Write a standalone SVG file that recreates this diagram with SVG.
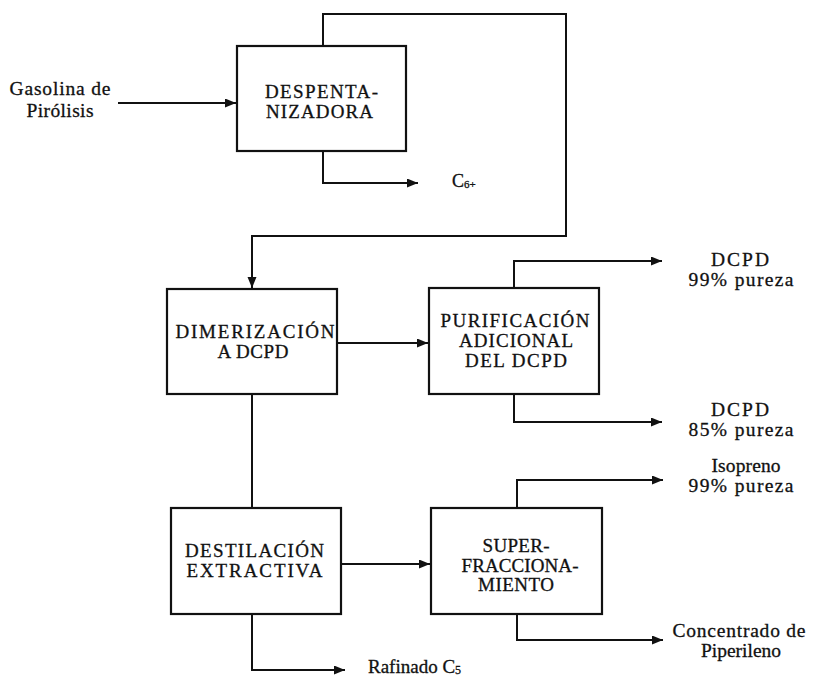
<svg xmlns="http://www.w3.org/2000/svg" width="813" height="678" viewBox="0 0 813 678">
  <style>
    .box { fill: #fff; stroke: #111; stroke-width: 2.2; }
    .line { fill: none; stroke: #111; stroke-width: 2; }
    .arr { marker-end: url(#ah); }
    text { font-family: "Liberation Serif", "Times New Roman", serif; fill: #111; stroke: #111; stroke-width: 0.3; }
    .bt { font-size: 19px; text-anchor: middle; }
    .lt { font-size: 19.5px; text-anchor: middle; }
  </style>
  <defs>
    <marker id="ah" markerUnits="userSpaceOnUse" markerWidth="12" markerHeight="10" refX="11" refY="4.5" orient="auto">
      <path d="M0,0 L11,4.5 L0,9 z" fill="#111"/>
    </marker>
  </defs>

  <rect width="813" height="678" fill="#fff"/>

  <!-- process streams -->
  <g id="connectors">
    <path class="line arr" d="M118,103 H236"/>
    <path class="line arr" d="M323,46 V14 H566 V236 H252 V288"/>
    <path class="line arr" d="M323,151 V183 H418"/>
    <path class="line arr" d="M337,343 H428"/>
    <path class="line arr" d="M514,288 V261 H662"/>
    <path class="line arr" d="M514,394 V422 H662"/>
    <path class="line" d="M252,394 V508"/>
    <path class="line arr" d="M341,564 H430"/>
    <path class="line arr" d="M252,614 V670 H345"/>
    <path class="line arr" d="M517,508 V480 H663"/>
    <path class="line arr" d="M517,614 V640 H663"/>
  </g>

  <!-- units -->
  <g id="despentanizadora">
    <rect class="box" x="237" y="46" width="169" height="105"/>
    <text class="bt" x="321.5" y="98" font-size="17.5" textLength="113" lengthAdjust="spacing">DESPENTA-</text>
    <text class="bt" x="319.5" y="118" font-size="17.5" textLength="107" lengthAdjust="spacing">NIZADORA</text>
  </g>

  <g id="dimerizacion">
    <rect class="box" x="167" y="289" width="170" height="105"/>
    <text class="bt" x="255" y="338" textLength="159" lengthAdjust="spacing">DIMERIZACIÓN</text>
    <text class="bt" x="253" y="358" textLength="71" lengthAdjust="spacing">A DCPD</text>
  </g>

  <g id="purificacion">
    <rect class="box" x="429" y="288" width="170" height="106"/>
    <text class="bt" x="515" y="327" textLength="149" lengthAdjust="spacing">PURIFICACIÓN</text>
    <text class="bt" x="516" y="347" textLength="114" lengthAdjust="spacing">ADICIONAL</text>
    <text class="bt" x="516" y="367" textLength="102" lengthAdjust="spacing">DEL DCPD</text>
  </g>

  <g id="destilacion">
    <rect class="box" x="171" y="508" width="170" height="106"/>
    <text class="bt" x="254.5" y="557" textLength="139" lengthAdjust="spacing">DESTILACIÓN</text>
    <text class="bt" x="254.5" y="577" textLength="136" lengthAdjust="spacing">EXTRACTIVA</text>
  </g>

  <g id="superfraccionamiento">
    <rect class="box" x="431" y="508" width="171" height="106"/>
    <text class="bt" x="516" y="552" textLength="67" lengthAdjust="spacing">SUPER-</text>
    <text class="bt" x="520" y="572" textLength="117" lengthAdjust="spacing">FRACCIONA-</text>
    <text class="bt" x="516" y="591" textLength="76" lengthAdjust="spacing">MIENTO</text>
  </g>

  <!-- feed and product labels -->
  <g id="feed">
    <text class="lt" x="60" y="95" textLength="101" lengthAdjust="spacing">Gasolina de</text>
    <text class="lt" x="60" y="117" textLength="67" lengthAdjust="spacing">Pirólisis</text>
  </g>

  <g id="c6-product">
    <text x="452" y="187" font-size="18">C<tspan font-size="11" dy="1">6+</tspan></text>
  </g>

  <g id="dcpd-99">
    <text class="lt" x="740" y="266" textLength="58" lengthAdjust="spacing">DCPD</text>
    <text class="lt" x="741" y="286" textLength="105" lengthAdjust="spacing">99% pureza</text>
  </g>

  <g id="dcpd-85">
    <text class="lt" x="740" y="416" textLength="58" lengthAdjust="spacing">DCPD</text>
    <text class="lt" x="741" y="436" textLength="105" lengthAdjust="spacing">85% pureza</text>
  </g>

  <g id="isopreno">
    <text class="lt" x="746" y="472" textLength="69" lengthAdjust="spacing">Isopreno</text>
    <text class="lt" x="741" y="492" textLength="105" lengthAdjust="spacing">99% pureza</text>
  </g>

  <g id="piperileno">
    <text class="lt" x="739" y="637" textLength="133" lengthAdjust="spacing">Concentrado de</text>
    <text class="lt" x="741" y="657">Piperileno</text>
  </g>

  <g id="rafinado">
    <text x="368" y="673" font-size="19">Rafinado C<tspan font-size="12" dy="1">5</tspan></text>
  </g>
</svg>
